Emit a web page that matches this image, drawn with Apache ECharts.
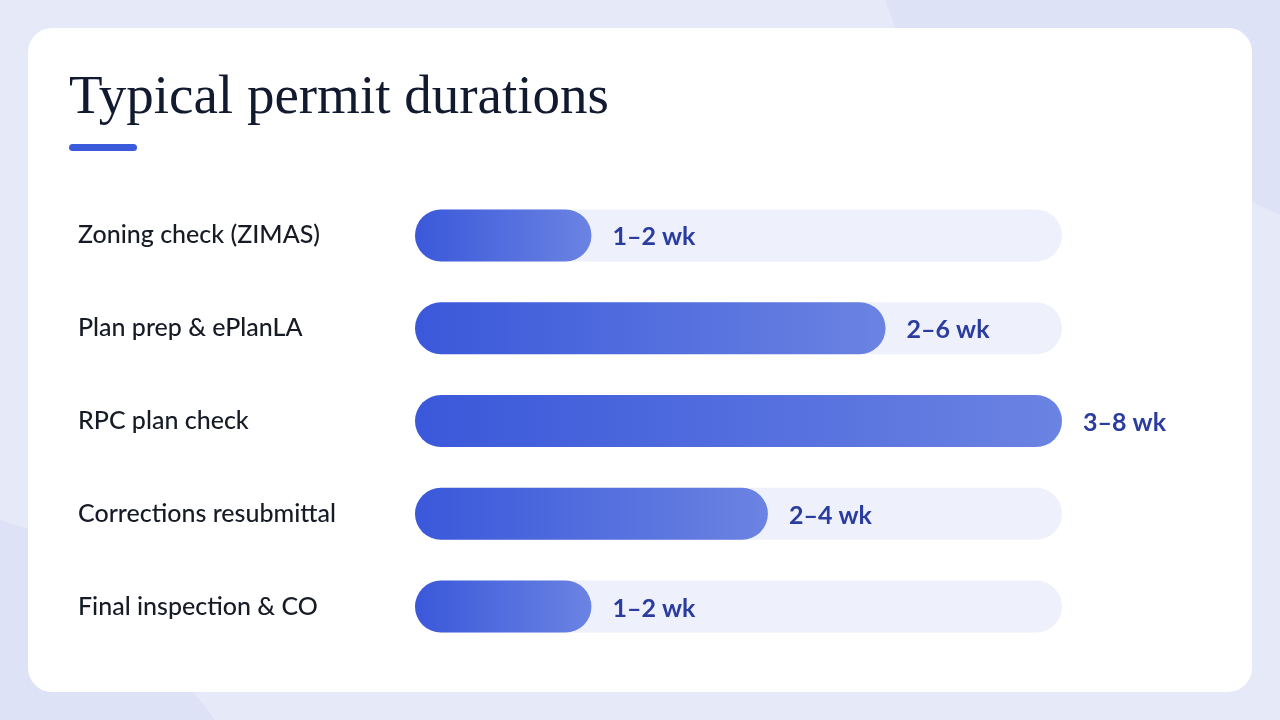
<!DOCTYPE html>
<html>
<head>
<meta charset="utf-8">
<script src="https://cdn.jsdelivr.net/npm/echarts@6/dist/echarts.min.js"></script>
<style>
html,body{margin:0;padding:0;width:1280px;height:720px;overflow:hidden;background:#e5e9f8;}
#chart{width:1280px;height:720px;}
</style>
</head>
<body>
<div id="chart"></div>
<script>
const categories = ["Zoning check (ZIMAS)", "Plan prep & ePlanLA", "RPC plan check", "Corrections resubmittal", "Final inspection & CO"];
const midWeeks = [1.5, 4, 5.5, 3, 1.5];
const rangeLabels = ["1–2 wk", "2–6 wk", "3–8 wk", "2–4 wk", "1–2 wk"];
const axisMax = 5.5;

const chart = echarts.init(document.getElementById('chart'), null, {renderer: 'canvas'});
chart.setOption({
  backgroundColor: '#e5e9f8',
  animation: false,
  graphic: [
    {type: 'polygon', z: -20, shape: {points: [[885,0],[1280,0],[1280,215],[900,40]]}, style: {fill: '#dde2f6'}},
    {type: 'polygon', z: -20, shape: {points: [[0,520],[80,545],[215,720],[0,720]]}, style: {fill: '#dde2f6'}},
    {type: 'rect', z: -10, shape: {x: 28, y: 28, width: 1224, height: 664, r: 24}, style: {fill: '#ffffff'}},
    {type: 'text', z: 2, left: 69, top: 71, style: {text: 'Typical permit durations', font: '400 55px "Liberation Serif", "DejaVu Serif", serif', fill: '#111a2e'}},
    {type: 'rect', z: 2, shape: {x: 69, y: 144, width: 68, height: 7, r: 3.5}, style: {fill: '#3b5bdb'}}
  ],
  grid: {left: 415, right: 218, top: 189, bottom: 67, containLabel: false},
  xAxis: {type: 'value', min: 0, max: axisMax, show: false},
  yAxis: {
    type: 'category', data: categories, inverse: true, z: 10,
    axisLine: {show: false}, axisTick: {show: false}, splitLine: {show: false},
    axisLabel: {align: 'left', margin: 337, padding: [8, 0, 0, 0], color: '#161b26', fontFamily: 'Lato, "Noto Sans", sans-serif', fontSize: 25, fontWeight: 500}
  },
  series: [{
    type: 'bar', data: midWeeks, barWidth: 52, z: 3,
    showBackground: true,
    backgroundStyle: {color: '#eef0fb', borderRadius: 26},
    itemStyle: {
      borderRadius: 26,
      color: new echarts.graphic.LinearGradient(0, 0, 1, 0, [{offset: 0, color: '#3a58da'}, {offset: 1, color: '#6b83e2'}])
    },
    label: {
      show: true, position: 'right', distance: 21, offset: [0, 2],
      formatter: p => rangeLabels[p.dataIndex],
      color: '#2a3c9f', fontFamily: 'Lato, "Noto Sans", sans-serif', fontSize: 25, fontWeight: 'bold'
    }
  }]
});
</script>
</body>
</html>
